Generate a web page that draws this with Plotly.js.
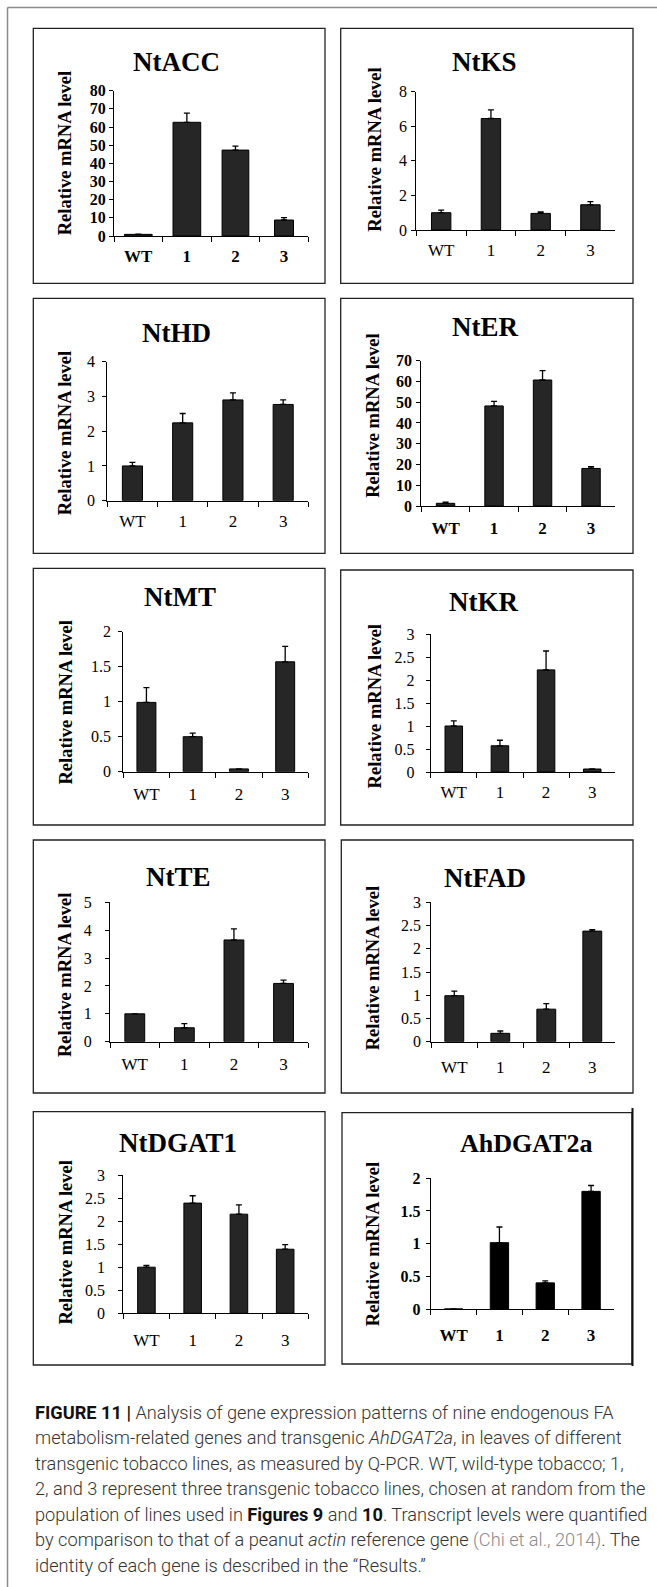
<!DOCTYPE html>
<html>
<head>
<meta charset="utf-8">
<script src="https://cdn.plot.ly/plotly-3.0.1.min.js"></script>
<style>html,body{margin:0;padding:0;background:#fff;}#chart{width:657px;height:1587px;}</style>
</head>
<body>
<div id="chart"></div>
<script>
// ---------- DATA ----------
const categories = ['WT', '1', '2', '3'];
const geneNames = ['NtACC', 'NtKS', 'NtHD', 'NtER', 'NtMT', 'NtKR', 'NtTE', 'NtFAD', 'NtDGAT1', 'AhDGAT2a'];

const valACC = [0.9, 62.6, 47.3, 8.8];
const errACC = [0.1, 5.0, 2.2, 1.3];
const valKS = [1.0, 6.45, 0.96, 1.46];
const errKS = [0.15, 0.5, 0.08, 0.18];
const valHD = [1.0, 2.24, 2.9, 2.77];
const errHD = [0.1, 0.27, 0.2, 0.13];
const valER = [1.3, 48.2, 60.7, 18.1];
const errER = [0.6, 2.2, 4.5, 0.8];
const valMT = [0.99, 0.5, 0.04, 1.57];
const errMT = [0.21, 0.05, 0, 0.22];
const valKR = [1.0, 0.57, 2.22, 0.065];
const errKR = [0.11, 0.12, 0.41, 0];
const valTE = [1.0, 0.5, 3.65, 2.09];
const errTE = [0, 0.15, 0.4, 0.12];
const valFAD = [0.99, 0.18, 0.70, 2.38];
const errFAD = [0.1, 0.05, 0.12, 0.03];
const valDGAT1 = [1.0, 2.39, 2.15, 1.39];
const errDGAT1 = [0.04, 0.16, 0.2, 0.1];
const valAh = [0, 1.015, 0.40, 1.80];
const errAh = [0, 0.24, 0.03, 0.09];

const yAxisMax = [80, 8, 4, 70, 2, 3, 5, 3, 3, 2];
const yAxisStep = [10, 2, 1, 10, 0.5, 0.5, 1, 0.5, 0.5, 0.5];
const yTitleText = 'Relative mRNA level';

const captionLines = [
  '<b style="color:#111">FIGURE 11 |</b> Analysis of gene expression patterns of nine endogenous FA',
  'metabolism-related genes and transgenic <i>AhDGAT2a</i>, in leaves of different',
  'transgenic tobacco lines, as measured by Q-PCR. WT, wild-type tobacco; 1,',
  '2, and 3 represent three transgenic tobacco lines, chosen at random from the',
  'population of lines used in <b style="color:#111">Figures 9</b> and <b style="color:#111">10</b>. Transcript levels were quantified',
  'by comparison to that of a peanut <i>actin</i> reference gene <span style="color:#8a8a8a">(Chi et al., 2014)</span>. The',
  'identity of each gene is described in the \u201cResults.\u201d'
];

// ---------- LAYOUT (pixel geometry) ----------
const W = 657, H = 1587;
const values = [valACC, valKS, valHD, valER, valMT, valKR, valTE, valFAD, valDGAT1, valAh];
const errors = [errACC, errKS, errHD, errER, errMT, errKR, errTE, errFAD, errDGAT1, errAh];

const panels = [
  {ax:[114,308.3], ay:[90.7,236], box:[33.3,28.3,325,283.3], t:[176.7,61.7], yt:[65,153.3], bold:true, bw:[0.57,0.57,0.55,0.39], ys:0, xs:5},
  {ax:[416.3,615.3], ay:[91.7,230], box:[340.7,28.3,633,283.3], t:[484.7,61.7], yt:[374.7,150], bold:false, bw:0.39, ys:1, xs:5},
  {ax:[107.3,308.3], ay:[361.7,500.7], box:[33.3,298.3,325,553.3], t:[176.7,333.3], yt:[65,433.3], bold:false, bw:0.4, ys:4, xs:5},
  {ax:[421.3,615.3], ay:[360.7,506], box:[340.7,298.3,633,553.3], t:[484.7,326.7], yt:[373,415.8], bold:true, bw:0.38, ys:1, xs:7},
  {ax:[123.3,308.3], ay:[631.7,771.7], box:[33.3,568.3,325,825], t:[180,596.7], yt:[65,702.5], bold:false, bw:0.41, ys:4, xs:7},
  {ax:[430.7,615.3], ay:[634,772], box:[340.7,570,633,825], t:[483,601.7], yt:[374.7,706.7], bold:false, bw:0.38, ys:8, xs:5},
  {ax:[110,308.3], ay:[902.3,1041.7], box:[33.3,840,325,1093], t:[178.3,876.7], yt:[65,975], bold:false, bw:0.4, ys:10, xs:7},
  {ax:[431.3,615.3], ay:[902.3,1041.7], box:[341.3,840,633,1093], t:[484.7,878.3], yt:[373,968.3], bold:false, bw:0.41, ys:2, xs:10},
  {ax:[123.3,308.3], ay:[1175,1313.3], box:[33.3,1111.7,325,1365], t:[178.3,1143.3], yt:[65,1242.5], bold:false, bw:0.38, ys:10, xs:11},
  {ax:[430.7,614], ay:[1178.3,1309], box:[342,1112.7,632,1364], t:[526.3,1143.3], yt:[373,1244.2], bold:true, bw:0.4, ys:2, xs:11, black:true, tsize:26}
];

const px = v => v / W;
const py = v => 1 - v / H;
const SERIF = 'Liberation Serif, Times New Roman, serif';

const data = [];
const layout = {
  width: W, height: H,
  margin: {l:0, r:0, t:0, b:0},
  paper_bgcolor: '#fff', plot_bgcolor: 'rgba(0,0,0,0)',
  showlegend: false,
  bargap: 0,
  shapes: [], annotations: []
};

panels.forEach((p, i) => {
  const n = i === 0 ? '' : String(i + 1);
  data.push({
    type: 'bar', x: categories, y: values[i],
    xaxis: 'x' + n, yaxis: 'y' + n,
    width: p.bw,
    marker: {color: p.black ? '#000' : '#262626', line: {color: '#000', width: 1}},
    error_y: {type: 'data', symmetric: false, array: errors[i], arrayminus: errors[i].map(() => 0),
              color: '#000', thickness: 1.3, width: 3},
    hoverinfo: 'skip', showlegend: false
  });
  const tf = {family: SERIF, size: 16, color: '#000', weight: p.bold ? 'bold' : 'normal'};
  layout['xaxis' + n] = {
    domain: [px(p.ax[0]), px(p.ax[1])], anchor: 'y' + n,
    type: 'category', range: [-0.5, 3.5], tickson: 'boundaries',
    ticks: 'outside', ticklen: 5, tickwidth: 1, tickcolor: '#000',
    showline: true, linecolor: '#000', linewidth: 1,
    showgrid: false, zeroline: false, fixedrange: true,
    tickfont: Object.assign({}, tf, {size: 17}), ticklabelstandoff: p.xs
  };
  layout['yaxis' + n] = {
    domain: [py(p.ay[1]), py(p.ay[0])], anchor: 'x' + n,
    range: [0, yAxisMax[i]], dtick: yAxisStep[i], tick0: 0,
    ticks: 'outside', ticklen: 4, tickwidth: 1, tickcolor: '#000',
    showline: true, linecolor: '#000', linewidth: 1,
    showgrid: false, zeroline: false, fixedrange: true,
    tickfont: tf, ticklabelstandoff: p.ys
  };
  layout.shapes.push({type: 'rect', xref: 'paper', yref: 'paper',
    x0: px(p.box[0]), x1: px(p.box[2]), y0: py(p.box[3]), y1: py(p.box[1]),
    line: {color: '#222', width: 1.3}, fillcolor: 'rgba(0,0,0,0)'});
  layout.annotations.push({xref: 'paper', yref: 'paper', x: px(p.t[0]), y: py(p.t[1]),
    xanchor: 'center', yanchor: 'middle', showarrow: false, text: geneNames[i],
    font: {family: SERIF, size: p.tsize || 27, weight: 'bold', color: '#000'}});
  layout.annotations.push({xref: 'paper', yref: 'paper', x: px(p.yt[0]), y: py(p.yt[1]),
    xanchor: 'center', yanchor: 'middle', showarrow: false, text: yTitleText, textangle: -90,
    font: {family: SERIF, size: 18.5, weight: 'bold', color: '#000'}});
});

layout.shapes.push({type: 'line', xref: 'paper', yref: 'paper', x0: px(632.5), x1: px(632.5), y0: py(1366), y1: py(1108),
  line: {color: '#111', width: 2}});

layout.shapes.push({type: 'line', xref: 'paper', yref: 'paper', x0: px(7.5), x1: 1, y0: py(7.5), y1: py(7.5),
  line: {color: '#8c8c8c', width: 1.5}});
layout.shapes.push({type: 'line', xref: 'paper', yref: 'paper', x0: px(7.5), x1: px(7.5), y0: 0, y1: py(7.5),
  line: {color: '#8c8c8c', width: 1.5}});

const capY = [1412, 1437.5, 1463, 1488.5, 1514, 1539.5, 1565];
captionLines.forEach((t, k) => {
  layout.annotations.push({xref: 'paper', yref: 'paper', x: px(33), y: py(capY[k]),
    xanchor: 'left', yanchor: 'middle', align: 'left', showarrow: false, text: t,
    font: {family: 'Roboto, Liberation Sans, sans-serif', size: 18.2, weight: 300, color: '#333'}});
});

Plotly.newPlot('chart', data, layout, {staticPlot: true, displayModeBar: false});
</script>
</body>
</html>
